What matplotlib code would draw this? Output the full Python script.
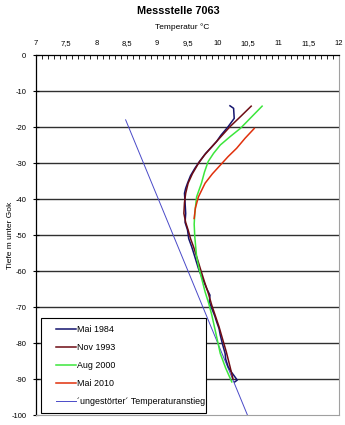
import numpy as np
import matplotlib
matplotlib.use('Agg')
from matplotlib import pyplot as plt
from matplotlib.ticker import MultipleLocator, FuncFormatter
from matplotlib.legend_handler import HandlerLine2D
from matplotlib.patches import Rectangle

mai84_t = [10.20, 10.26, 10.27, 10.17, 10.05, 9.98, 9.90, 9.80, 9.70, 9.62, 9.55, 9.50, 9.47,
           9.45, 9.46, 9.47, 9.46, 9.50, 9.52, 9.57, 9.62, 9.68, 9.72, 9.77, 9.82, 9.87, 9.86,
           9.90, 9.95, 9.98, 10.02, 10.04, 10.08, 10.12, 10.13, 10.17, 10.22, 10.26, 10.32, 10.28]
mai84_d = [-14.1, -14.8, -17.6, -19.9, -22.3, -24.0, -25.5, -27.3, -29.5, -31.5, -33.5, -35.6, -37.0,
           -38.4, -41.0, -44.0, -46.5, -48.6, -51.0, -53.3, -56.0, -59.3, -61.0, -63.0, -65.0, -66.7, -68.5,
           -70.4, -72.5, -74.1, -76.0, -77.8, -80.5, -82.9, -84.5, -86.6, -88.0, -88.9, -90.3, -90.8]

nov93_t = [10.55, 10.38, 10.20, 10.05, 9.90, 9.78, 9.68, 9.58, 9.51, 9.47, 9.45, 9.44, 9.47,
           9.51, 9.55, 9.60, 9.66, 9.72, 9.78, 9.84, 9.90, 9.96, 10.02, 10.08, 10.14, 10.20, 10.25]
nov93_d = [-14.2, -17.0, -19.9, -22.7, -25.5, -27.8, -30.1, -33.0, -35.6, -38.4, -41.0, -44.0, -46.5,
           -48.6, -51.0, -53.3, -56.5, -59.8, -63.0, -66.0, -69.5, -72.5, -75.5, -79.0, -82.5, -86.5, -90.0]

aug00_t = [10.73, 10.55, 10.37, 10.20, 10.04, 9.93, 9.84, 9.78, 9.73, 9.65, 9.62, 9.61, 9.62,
           9.65, 9.69, 9.74, 9.79, 9.85, 9.90, 9.97, 10.04, 10.13, 10.23]
aug00_d = [-14.2, -17.3, -20.4, -22.7, -25.0, -27.3, -29.6, -32.5, -35.6, -39.4, -44.0, -47.0, -50.5,
           -56.0, -59.3, -62.5, -65.8, -69.0, -72.2, -77.5, -82.9, -87.0, -90.8]

mai10_t = [10.60, 10.45, 10.31, 10.17, 10.04, 9.91, 9.79, 9.68, 9.63, 9.61]
mai10_d = [-20.4, -23.1, -25.9, -28.2, -30.6, -33.0, -35.6, -39.4, -42.5, -45.4]

ungest_t = [8.48, 10.50]
ungest_d = [-18.0, -100.5]

names = ['Mai 1984', 'Nov 1993', 'Aug 2000', 'Mai 2010', '\u00b4ungest\u00f6rter\u00b4 Temperaturanstieg']

plt.rcParams['font.family'] = ['Liberation Sans', 'DejaVu Sans']
plt.rcParams['axes.unicode_minus'] = False

fig = plt.figure(figsize=(3.45, 4.25), dpi=100)
ax = fig.add_axes([0.104, 0.0235, 0.879, 0.847])

ax.plot(ungest_t, ungest_d, color='#4a4ac8', lw=0.7, label=names[4], zorder=3)
ax.plot(mai84_t, mai84_d, color='#14146e', lw=1.1, label=names[0], zorder=4)
ax.plot(nov93_t, nov93_d, color='#6e0c14', lw=1.1, label=names[1], zorder=5)
ax.plot(aug00_t, aug00_d, color='#3ce63c', lw=1.1, label=names[2], zorder=6)
ax.plot(mai10_t, mai10_d, color='#e0300c', lw=1.1, label=names[3], zorder=7)

ax.set_xlim(7, 12)
ax.set_ylim(-100, 0)

ax.xaxis.tick_top()
ax.xaxis.set_major_locator(MultipleLocator(0.5))
ax.xaxis.set_minor_locator(MultipleLocator(0.1))
ax.xaxis.set_major_formatter(FuncFormatter(lambda v, p: ('%g' % v).replace('.', ',')))
ax.yaxis.set_major_locator(MultipleLocator(10))
ax.tick_params(axis='x', which='both', direction='in', length=3, width=0.6, labelsize=5.5, pad=6, colors='black')
ax.tick_params(axis='y', direction='inout', length=4, width=0.8, labelsize=5.5, pad=5)

fig.text(182 / 345, 1 - 27 / 425, 'Temperatur \u00b0C', fontsize=6, ha='center', va='center')
fig.text(178 / 345, 1 - 11 / 425, 'Messstelle 7063', fontsize=7.8, fontweight='bold', ha='center', va='center')
ax.set_ylabel('Tiefe m unter Gok', fontsize=6)
ax.yaxis.set_label_coords(-0.072, 0.5)

for d in range(-90, 0, 10):
    ax.axhline(d, color='#303030', lw=1.0, zorder=1)

ax.spines['top'].set_color('black')
ax.spines['top'].set_linewidth(0.9)
ax.spines['left'].set_color('black')
ax.spines['left'].set_linewidth(0.9)
ax.spines['right'].set_color('#a0a0a0')
ax.spines['bottom'].set_color('#a0a0a0')

# Legendenrahmen separat, damit rechts kaum Rand bleibt
box = Rectangle((0.0165, 0.0056), 0.545, 0.264, transform=ax.transAxes, facecolor='white',
                edgecolor='black', lw=0.8, zorder=9)
ax.add_patch(box)

h, l = ax.get_legend_handles_labels()
order = [1, 2, 3, 4, 0]
hm = {hh: HandlerLine2D(xpad=0.9) for hh in h}
leg = ax.legend([h[i] for i in order], [l[i] for i in order], loc='lower left',
                bbox_to_anchor=(0.016, 0.006), fontsize=6.4, frameon=False,
                borderpad=0.8, labelspacing=1.0,
                handlelength=3.15, handletextpad=0.1, borderaxespad=0, handler_map=hm)
leg.set_zorder(10)

fig.savefig('out.png', dpi=100)
